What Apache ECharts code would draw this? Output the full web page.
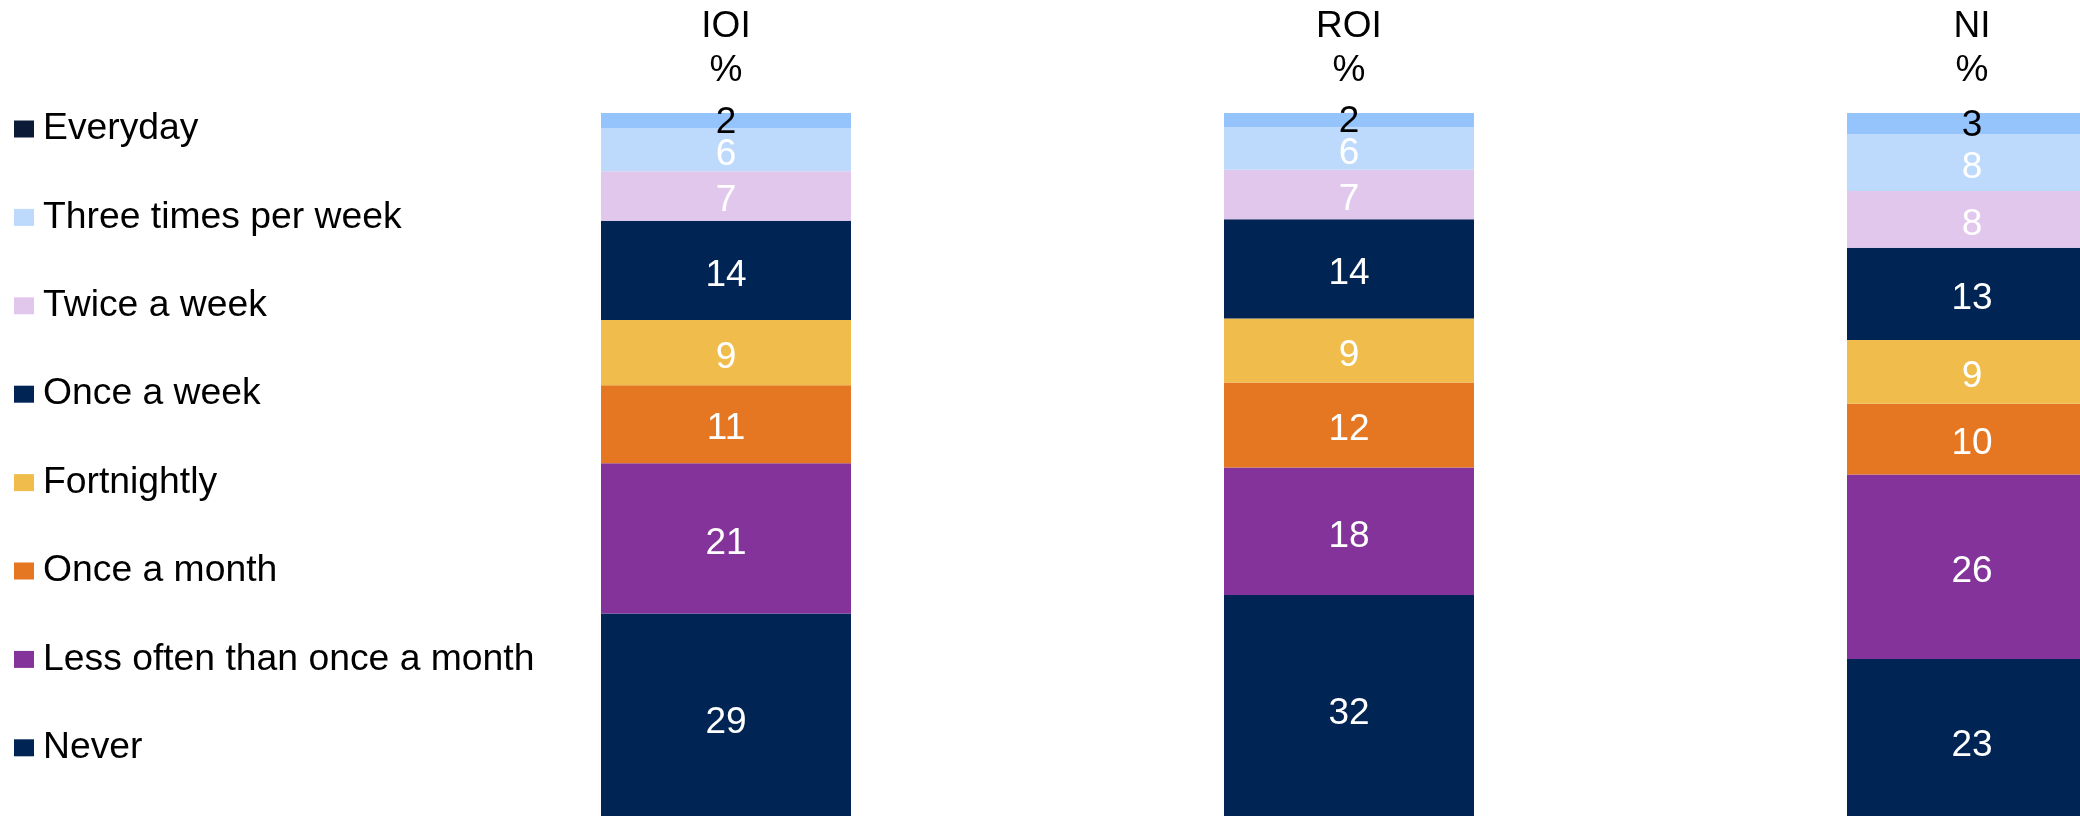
<!DOCTYPE html>
<html>
<head>
<meta charset="utf-8">
<script src="https://cdn.jsdelivr.net/npm/echarts@6/dist/echarts.min.js"></script>
<style>
  html, body { margin: 0; padding: 0; background: #fff; }
  #chart { width: 2080px; height: 816px; }
</style>
</head>
<body>
<div id="chart"></div>
<script>
// categories and values (percent)
const categories = ['IOI', 'ROI', 'NI'];
const everyday = [2.1, 2, 3];
const threeTimes = [6.1, 6, 8];
const twice = [7, 7, 8];
const onceWeek = [14, 14, 13];
const fortnightly = [9.2, 9, 9];
const onceMonth = [11, 12, 10];
const lessOften = [21.2, 18, 26];
const never = [29.4, 32, 23];

// legend order, top to bottom
const seriesNames = ['Everyday', 'Three times per week', 'Twice a week', 'Once a week',
  'Fortnightly', 'Once a month', 'Less often than once a month', 'Never'];
const seriesData = [everyday, threeTimes, twice, onceWeek, fortnightly, onceMonth, lessOften, never];
const barColors = ['#95c3fb', '#bddafd', '#e2c7ec', '#002453', '#f0bd4c', '#e67722', '#833399', '#002453'];
const legendColors = ['#0b1a36', '#bddafd', '#e2c7ec', '#002453', '#f0bd4c', '#e67722', '#833399', '#002453'];

const font = "'Liberation Sans', Arial, sans-serif";
const chart = echarts.init(document.getElementById('chart'));

// stack from the bottom: Never first, Everyday last
const series = [];
for (let i = seriesNames.length - 1; i >= 0; i--) {
  series.push({
    name: seriesNames[i],
    type: 'bar',
    stack: 'total',
    barWidth: 250,
    data: seriesData[i],
    itemStyle: { color: barColors[i] },
    label: {
      show: true,
      position: 'inside',
      offset: [0, i === 0 ? 2 : 5],
      fontFamily: font,
      fontSize: 37,
      color: i === 0 ? '#000000' : '#ffffff',
      formatter: p => Math.round(p.value)
    }
  });
}

const option = {
  animation: false,
  backgroundColor: '#ffffff',
  legend: {
    orient: 'vertical',
    left: 14,
    top: 109,
    padding: 0,
    itemGap: 48.4,
    itemWidth: 20,
    itemHeight: 17,
    icon: 'rect',
    selectedMode: false,
    textStyle: { fontFamily: font, fontSize: 37.3, lineHeight: 40, color: '#000', padding: [0, 0, 0, 4] },
    data: seriesNames.map((n, i) => ({ name: n, itemStyle: { color: legendColors[i] } }))
  },
  grid: {
    left: 414.5,
    top: 113,
    width: 1869,
    height: 709,
    outerBoundsMode: 'none'
  },
  xAxis: {
    type: 'category',
    position: 'top',
    data: categories,
    axisLine: { show: false },
    axisTick: { show: false },
    axisLabel: {
      margin: 20,
      fontFamily: font,
      fontSize: 37,
      lineHeight: 44,
      color: '#000',
      formatter: v => v + '\n%'
    }
  },
  yAxis: {
    type: 'value',
    min: 0,
    max: 100,
    show: false
  },
  series: series
};

chart.setOption(option);
</script>
</body>
</html>
